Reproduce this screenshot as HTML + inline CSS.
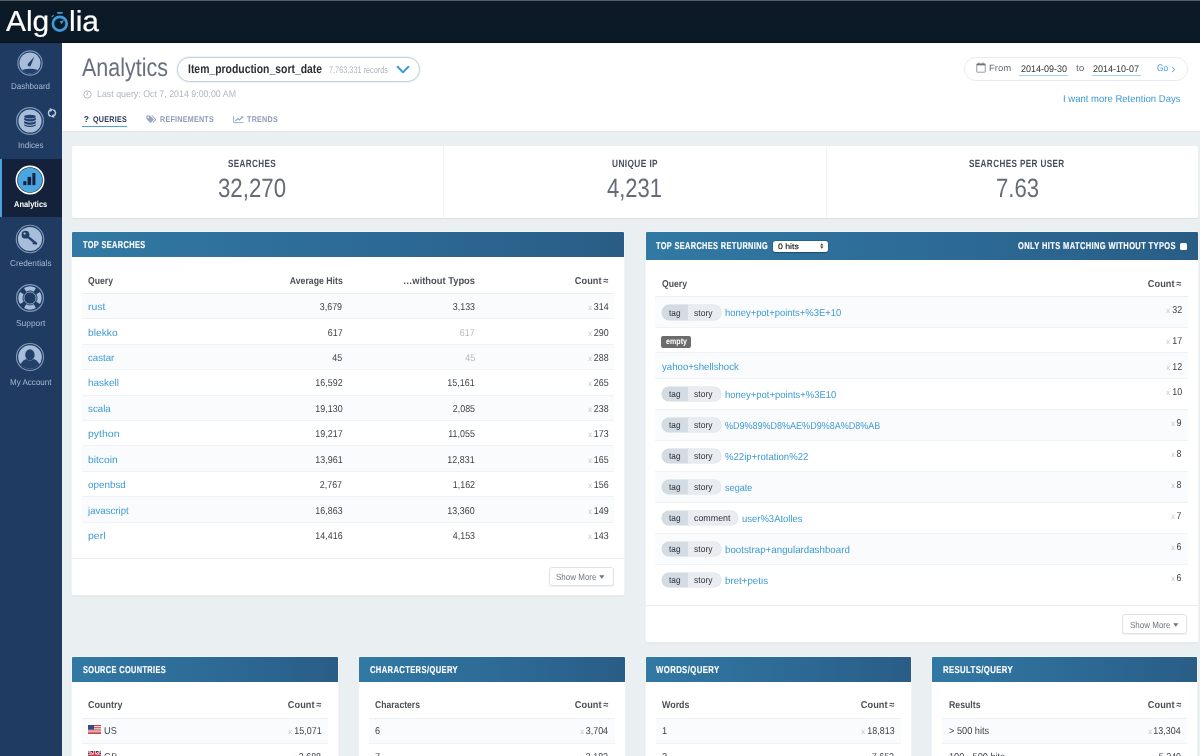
<!DOCTYPE html>
<html lang="en"><head><meta charset="utf-8"><title>Algolia Analytics</title>
<style>
html,body{margin:0;padding:0}
body{width:1200px;height:756px;overflow:hidden;position:relative;background:#eaeff2;font-family:'Liberation Sans', sans-serif;text-rendering:geometricPrecision}
.t{position:absolute;white-space:nowrap;display:block}
svg{position:absolute;overflow:visible}
</style></head><body>
<div style="position:absolute;left:0px;top:0px;width:1200px;height:42.6px;background:#0c1926;border-top:1px solid #555e69;border-bottom:1px solid #070f18;box-sizing:border-box;"></div>
<svg style="left:50px;top:10px" width="20" height="24" viewBox="50 10 20 24">
<circle cx="59.8" cy="23.7" r="6.9" fill="none" stroke="#3f9ad6" stroke-width="2.7"/>
<rect x="56.9" y="11.9" width="6" height="1.8" rx=".9" fill="#3f9ad6"/>
<path d="M59.6 21.4 L64.2 19.9 L61.6 24.2Z" fill="#3f9ad6"/>
<path d="M52 16.6 L53.3 15.5" stroke="#3f9ad6" stroke-width="1.2" stroke-linecap="round"/>
</svg>
<div style="position:absolute;left:0px;top:42.6px;width:61.7px;height:714px;background:#1f3b61;"></div>
<div style="position:absolute;left:0px;top:158.8px;width:61.7px;height:58.6px;background:#13223a;"></div>
<div style="position:absolute;left:0px;top:158.8px;width:2.1px;height:58.6px;background:#4aa3df;"></div>
<svg style="left:14.399999999999999px;top:47.4px" width="32" height="32" viewBox="-16 -16 32 32">
<circle r="12.125" fill="none" stroke="#7d98bd" stroke-width="1.15"/>
<circle r="10.6" fill="#a7bdda"/>
<path d="M-7.96 7 Q0 4.3 7.96 7 A10.6 10.6 0 0 1 -7.96 7Z" fill="#22406a"/><path d="M-2.2 0.9 L4.4 -6.6 L0.6 2.9 A1.75 1.75 0 0 1 -2.2 0.9Z" fill="#22406a"/></svg>
<svg style="left:14.2px;top:105.4px" width="32" height="32" viewBox="-16 -16 32 32">
<circle r="13.425" fill="none" stroke="#7d98bd" stroke-width="1.15"/>
<circle r="11.6" fill="#a7bdda"/>
<g fill="#22406a"><ellipse cx="0" cy="-4.3" rx="5.8" ry="1.9"/><path d="M-5.8 -3.2 Q0 -0.2 5.8 -3.2 V-0.9 Q0 2.1 -5.8 -0.9Z"/><path d="M-5.8 0 Q0 3 5.8 0 V2.3 Q0 5.3 -5.8 2.3Z"/><path d="M-5.8 3.2 Q0 6.2 5.8 3.2 V4.6 Q0 7.6 -5.8 4.6Z"/></g></svg>
<svg style="left:14.3px;top:164px" width="32" height="32" viewBox="-16 -16 32 32">
<circle r="13.6" fill="none" stroke="#ffffff" stroke-width="1.6"/>
<circle r="12.2" fill="#4ba6e0"/>
<g fill="#13223a"><rect x="-6.7" y="1.2" width="3.1" height="3.9"/><rect x="-2.4" y="-3.1" width="3.5" height="8.2"/><rect x="2.4" y="-7" width="3" height="12.1"/></g></svg>
<svg style="left:14.3px;top:222.6px" width="32" height="32" viewBox="-16 -16 32 32">
<circle r="13.725000000000001" fill="none" stroke="#7d98bd" stroke-width="1.15"/>
<circle r="12.1" fill="#a7bdda"/>
<g fill="#22406a"><circle cx="-4.5" cy="-4.3" r="3.9"/><path d="M-2.9 -1.3 L-1.3 -3.1 L7.4 4.1 L6.4 6 L4.6 4.9 L3.9 5.8 L2.4 4.6 L2.9 3.6Z"/></g><circle cx="-5.4" cy="-5.4" r="1.15" fill="#a7bdda"/></svg>
<svg style="left:13.899999999999999px;top:282px" width="32" height="32" viewBox="-16 -16 32 32">
<circle r="13.425" fill="none" stroke="#7d98bd" stroke-width="1.15"/>

<path d="M9.94 -5.97 A11.6 11.6 0 0 1 9.94 5.97 L6.34 3.81 A7.4 7.4 0 0 0 6.34 -3.81Z" fill="#a7bdda"/><path d="M5.97 9.94 A11.6 11.6 0 0 1 -5.97 9.94 L-3.81 6.34 A7.4 7.4 0 0 0 3.81 6.34Z" fill="#a7bdda"/><path d="M-9.94 5.97 A11.6 11.6 0 0 1 -9.94 -5.97 L-6.34 -3.81 A7.4 7.4 0 0 0 -6.34 3.81Z" fill="#a7bdda"/><path d="M-5.97 -9.94 A11.6 11.6 0 0 1 5.97 -9.94 L3.81 -6.34 A7.4 7.4 0 0 0 -3.81 -6.34Z" fill="#a7bdda"/><circle r="6.1" fill="none" stroke="#8ea8cb" stroke-width="1"/></svg>
<svg style="left:14.2px;top:341.3px" width="32" height="32" viewBox="-16 -16 32 32">
<circle r="13.525" fill="none" stroke="#7d98bd" stroke-width="1.15"/>
<circle r="11.8" fill="#a7bdda"/>
<g fill="#22406a"><ellipse cx="-0.1" cy="-2.1" rx="4.7" ry="5.6"/><path d="M-9.6 6.9 L-6.6 3.6 Q-4.6 2.2 -3.4 2 Q0 5 3.4 2 Q4.6 2.2 6.6 3.6 L9.6 6.9 A11.8 11.8 0 0 1 -9.6 6.9Z"/></g></svg>
<svg style="left:47.3px;top:107.6px" width="10" height="10" viewBox="-5 -5 10 10"><g fill="none" stroke="#bccbe0" stroke-width="1.5">
<path d="M-1.3 3.3 A3.5 3.5 0 0 1 -1.6 -3.1"/><path d="M1.3 -3.3 A3.5 3.5 0 0 1 1.6 3.1"/></g>
<path d="M-2.4 -4.9 L1.3 -3.4 L-1.6 -0.9Z" fill="#bccbe0"/><path d="M2.4 4.9 L-1.3 3.4 L1.6 0.9Z" fill="#bccbe0"/></svg>
<div style="position:absolute;left:61.7px;top:42.6px;width:1138.3px;height:88.4px;background:#fff;border-bottom:1px solid #dfe5ea;"></div>
<div style="position:absolute;left:177px;top:57px;width:243px;height:24.5px;background:#fff;border:1px solid #c3d0db;border-radius:13px;box-sizing:border-box;box-shadow:0 0 0 1px rgba(195,208,219,.25);"></div>
<svg style="left:396px;top:65px" width="14" height="10" viewBox="0 0 14 10"><path d="M1.6 1.8 L7 7.4 L12.4 1.8" fill="none" stroke="#3d9bd3" stroke-width="2" stroke-linecap="round" stroke-linejoin="round"/></svg>
<svg style="left:83px;top:89.5px" width="9" height="9" viewBox="0 0 9 9"><circle cx="4.5" cy="4.5" r="3.7" fill="none" stroke="#b4bcc5" stroke-width="1"/><path d="M4.5 2.4 V4.7 H2.9" fill="none" stroke="#b4bcc5" stroke-width=".9"/></svg>
<div style="position:absolute;left:82px;top:125.8px;width:45px;height:1.5px;background:#4ba3d8;"></div>
<svg style="left:146px;top:114.5px" width="11" height="9" viewBox="0 0 11 9"><path d="M0.4 0.6 H4 L8 4.6 L4.6 8 L0.4 4Z" fill="#98a6bd"/><path d="M5.4 0.6 H6.4 L10.4 4.6 L7 8 L6.4 7.4 L9 4.6Z" fill="#98a6bd"/><circle cx="2.2" cy="2.4" r=".8" fill="#fff"/></svg>
<svg style="left:233px;top:114.5px" width="11" height="9" viewBox="0 0 11 9"><path d="M0.6 0.8 V7.6 H10.4" fill="none" stroke="#98a6bd" stroke-width=".9"/><path d="M2.4 6.2 L4.8 3.6 L6.4 5 L9.6 1.8" fill="none" stroke="#98a6bd" stroke-width="1.2"/><path d="M7.8 1.2 H10.2 V3.6Z" fill="#98a6bd"/></svg>
<div style="position:absolute;left:963.5px;top:56.5px;width:224px;height:24.5px;background:#fff;border:1px solid #e8ecef;border-radius:13px;box-sizing:border-box;"></div>
<svg style="left:975.6px;top:62.3px" width="10" height="11" viewBox="0 0 10 11"><rect x=".8" y="1.8" width="8.4" height="8.4" rx=".4" fill="none" stroke="#7b828c" stroke-width=".8"/><path d="M.8 2.6 H9.2" stroke="#6d747e" stroke-width="1.5"/><path d="M3 .5 V2 M7 .5 V2" stroke="#7b828c" stroke-width="1.1"/></svg>
<div style="position:absolute;left:1019px;top:75px;width:49px;height:1px;background:#a3d2ec;"></div>
<div style="position:absolute;left:1091.5px;top:75px;width:49px;height:1px;background:#a3d2ec;"></div>
<svg style="left:1171px;top:65.5px" width="5" height="7" viewBox="0 0 5 7"><path d="M1.2 1 L3.8 3.5 L1.2 6" fill="none" stroke="#3d9bd3" stroke-width="1"/></svg>
<div style="position:absolute;left:72px;top:146px;width:1126px;height:71.5px;background:#fff;border-radius:2px;box-shadow:0 1px 1px rgba(0,0,0,.06);"></div>
<div style="position:absolute;left:443px;top:146px;width:1px;height:71.5px;background:#f1f3f5;"></div>
<div style="position:absolute;left:826px;top:146px;width:1px;height:71.5px;background:#f1f3f5;"></div>
<div style="position:absolute;left:72px;top:231.5px;width:552px;height:363px;background:#fff;border-radius:2px;box-shadow:0 0 0 .6px rgba(255,255,255,.75),0 1px 2px rgba(0,0,0,.10);"></div>
<div style="position:absolute;left:72px;top:231.5px;width:552px;height:25.8px;background:linear-gradient(90deg,#3179a4 0%,#2c6a95 55%,#295d86 100%);border-radius:1px 1px 0 0;"></div>
<div style="position:absolute;left:82px;top:293px;width:532px;height:1px;background:#eceff1;"></div>
<div style="position:absolute;left:82px;top:294.0px;width:532px;height:24.4px;background:#fafbfc;"></div>
<div style="position:absolute;left:82px;top:318.4px;width:532px;height:1px;background:#f0f3f5;"></div>
<div style="position:absolute;left:82px;top:343.79999999999995px;width:532px;height:1px;background:#f0f3f5;"></div>
<div style="position:absolute;left:82px;top:344.8px;width:532px;height:24.4px;background:#fafbfc;"></div>
<div style="position:absolute;left:82px;top:369.2px;width:532px;height:1px;background:#f0f3f5;"></div>
<div style="position:absolute;left:82px;top:394.59999999999997px;width:532px;height:1px;background:#f0f3f5;"></div>
<div style="position:absolute;left:82px;top:395.6px;width:532px;height:24.4px;background:#fafbfc;"></div>
<div style="position:absolute;left:82px;top:420.0px;width:532px;height:1px;background:#f0f3f5;"></div>
<div style="position:absolute;left:82px;top:445.4px;width:532px;height:1px;background:#f0f3f5;"></div>
<div style="position:absolute;left:82px;top:446.4px;width:532px;height:24.4px;background:#fafbfc;"></div>
<div style="position:absolute;left:82px;top:470.79999999999995px;width:532px;height:1px;background:#f0f3f5;"></div>
<div style="position:absolute;left:82px;top:496.19999999999993px;width:532px;height:1px;background:#f0f3f5;"></div>
<div style="position:absolute;left:82px;top:497.2px;width:532px;height:24.4px;background:#fafbfc;"></div>
<div style="position:absolute;left:82px;top:521.6px;width:532px;height:1px;background:#f0f3f5;"></div>
<div style="position:absolute;left:72px;top:558px;width:552px;height:1px;background:#ebeef1;"></div>
<div style="position:absolute;left:548.5px;top:566.5px;width:65px;height:19.8px;background:#fff;border:1px solid #dde2e6;border-radius:3px;box-sizing:border-box;box-shadow:0 1px 1px rgba(0,0,0,.06);"></div>
<svg style="left:599.1px;top:575.4px" width="6" height="4" viewBox="0 0 6 4"><path d="M.2 .3 H5.4 L2.8 3.7Z" fill="#6d7580"/></svg>
<div style="position:absolute;left:645.5px;top:231.5px;width:552px;height:410.5px;background:#fff;border-radius:2px;box-shadow:0 0 0 .6px rgba(255,255,255,.75),0 1px 2px rgba(0,0,0,.10);"></div>
<div style="position:absolute;left:645.5px;top:231.5px;width:552px;height:28.5px;background:linear-gradient(90deg,#3179a4 0%,#2c6a95 55%,#295d86 100%);border-radius:1px 1px 0 0;"></div>
<div style="position:absolute;left:772.5px;top:240.8px;width:55.5px;height:11px;background:#fff;border-radius:2.5px;box-shadow:0 0 0 .5px rgba(0,0,0,.2),0 .5px 1px rgba(0,0,0,.25);"></div>
<svg style="left:820.2px;top:243.3px" width="3.6" height="6" viewBox="0 0 3.6 6"><path d="M.2 2.4 L1.8 .2 L3.4 2.4Z M.2 3.6 L1.8 5.8 L3.4 3.6Z" fill="#3a3a3a"/></svg>
<div style="position:absolute;left:1179.7px;top:243.3px;width:7px;height:7px;background:#fff;border-radius:1.5px;"></div>
<div style="position:absolute;left:655px;top:296px;width:533px;height:1px;background:#eceff1;"></div>
<div style="position:absolute;left:655px;top:297px;width:533px;height:30px;background:#fafbfc;"></div>
<div style="position:absolute;left:655px;top:327px;width:533px;height:1px;background:#f0f3f5;"></div>
<div style="position:absolute;left:661.7px;top:305px;width:26px;height:14.6px;background:#d3dbe3;border-radius:7.3px 0 0 7.3px;box-shadow:0 0 0 .5px #cfd7df;"></div>
<div style="position:absolute;left:687.7px;top:305px;width:33.8px;height:14.6px;background:#e9edf1;border-radius:0 7.3px 7.3px 0;box-shadow:0 0 0 .5px #d9e0e7;"></div>
<div style="position:absolute;left:655px;top:352.4px;width:533px;height:1px;background:#f0f3f5;"></div>
<div style="position:absolute;left:661.4000000000001px;top:335.5px;width:29.3px;height:12.3px;background:#6c6c6c;border-radius:2px;"></div>
<div style="position:absolute;left:655px;top:353.4px;width:533px;height:24.4px;background:#fafbfc;"></div>
<div style="position:absolute;left:655px;top:377.79999999999995px;width:533px;height:1px;background:#f0f3f5;"></div>
<div style="position:absolute;left:655px;top:408.79999999999995px;width:533px;height:1px;background:#f0f3f5;"></div>
<div style="position:absolute;left:661.7px;top:386.79999999999995px;width:26px;height:14.6px;background:#d3dbe3;border-radius:7.3px 0 0 7.3px;box-shadow:0 0 0 .5px #cfd7df;"></div>
<div style="position:absolute;left:687.7px;top:386.79999999999995px;width:33.8px;height:14.6px;background:#e9edf1;border-radius:0 7.3px 7.3px 0;box-shadow:0 0 0 .5px #d9e0e7;"></div>
<div style="position:absolute;left:655px;top:409.79999999999995px;width:533px;height:30px;background:#fafbfc;"></div>
<div style="position:absolute;left:655px;top:439.79999999999995px;width:533px;height:1px;background:#f0f3f5;"></div>
<div style="position:absolute;left:661.7px;top:417.79999999999995px;width:26px;height:14.6px;background:#d3dbe3;border-radius:7.3px 0 0 7.3px;box-shadow:0 0 0 .5px #cfd7df;"></div>
<div style="position:absolute;left:687.7px;top:417.79999999999995px;width:33.8px;height:14.6px;background:#e9edf1;border-radius:0 7.3px 7.3px 0;box-shadow:0 0 0 .5px #d9e0e7;"></div>
<div style="position:absolute;left:655px;top:470.79999999999995px;width:533px;height:1px;background:#f0f3f5;"></div>
<div style="position:absolute;left:661.7px;top:448.79999999999995px;width:26px;height:14.6px;background:#d3dbe3;border-radius:7.3px 0 0 7.3px;box-shadow:0 0 0 .5px #cfd7df;"></div>
<div style="position:absolute;left:687.7px;top:448.79999999999995px;width:33.8px;height:14.6px;background:#e9edf1;border-radius:0 7.3px 7.3px 0;box-shadow:0 0 0 .5px #d9e0e7;"></div>
<div style="position:absolute;left:655px;top:471.79999999999995px;width:533px;height:30px;background:#fafbfc;"></div>
<div style="position:absolute;left:655px;top:501.79999999999995px;width:533px;height:1px;background:#f0f3f5;"></div>
<div style="position:absolute;left:661.7px;top:479.79999999999995px;width:26px;height:14.6px;background:#d3dbe3;border-radius:7.3px 0 0 7.3px;box-shadow:0 0 0 .5px #cfd7df;"></div>
<div style="position:absolute;left:687.7px;top:479.79999999999995px;width:33.8px;height:14.6px;background:#e9edf1;border-radius:0 7.3px 7.3px 0;box-shadow:0 0 0 .5px #d9e0e7;"></div>
<div style="position:absolute;left:655px;top:532.8px;width:533px;height:1px;background:#f0f3f5;"></div>
<div style="position:absolute;left:661.7px;top:510.79999999999995px;width:26px;height:14.6px;background:#d3dbe3;border-radius:7.3px 0 0 7.3px;box-shadow:0 0 0 .5px #cfd7df;"></div>
<div style="position:absolute;left:687.7px;top:510.79999999999995px;width:50.8px;height:14.6px;background:#e9edf1;border-radius:0 7.3px 7.3px 0;box-shadow:0 0 0 .5px #d9e0e7;"></div>
<div style="position:absolute;left:655px;top:533.8px;width:533px;height:30px;background:#fafbfc;"></div>
<div style="position:absolute;left:655px;top:563.8px;width:533px;height:1px;background:#f0f3f5;"></div>
<div style="position:absolute;left:661.7px;top:541.8px;width:26px;height:14.6px;background:#d3dbe3;border-radius:7.3px 0 0 7.3px;box-shadow:0 0 0 .5px #cfd7df;"></div>
<div style="position:absolute;left:687.7px;top:541.8px;width:33.8px;height:14.6px;background:#e9edf1;border-radius:0 7.3px 7.3px 0;box-shadow:0 0 0 .5px #d9e0e7;"></div>
<div style="position:absolute;left:661.7px;top:572.8px;width:26px;height:14.6px;background:#d3dbe3;border-radius:7.3px 0 0 7.3px;box-shadow:0 0 0 .5px #cfd7df;"></div>
<div style="position:absolute;left:687.7px;top:572.8px;width:33.8px;height:14.6px;background:#e9edf1;border-radius:0 7.3px 7.3px 0;box-shadow:0 0 0 .5px #d9e0e7;"></div>
<div style="position:absolute;left:645px;top:605.2px;width:552.5px;height:1px;background:#ebeef1;"></div>
<div style="position:absolute;left:1122px;top:614.4px;width:65px;height:19.8px;background:#fff;border:1px solid #dde2e6;border-radius:3px;box-sizing:border-box;box-shadow:0 1px 1px rgba(0,0,0,.06);"></div>
<svg style="left:1172.6px;top:623.3px" width="6" height="4" viewBox="0 0 6 4"><path d="M.2 .3 H5.4 L2.8 3.7Z" fill="#6d7580"/></svg>
<div style="position:absolute;left:72px;top:656.5px;width:266px;height:120px;background:#fff;border-radius:2px;box-shadow:0 0 0 .6px rgba(255,255,255,.75),0 1px 2px rgba(0,0,0,.10);"></div>
<div style="position:absolute;left:72px;top:656.5px;width:266px;height:25.2px;background:linear-gradient(90deg,#3179a4 0%,#2c6a95 55%,#295d86 100%);border-radius:1px 1px 0 0;"></div>
<div style="position:absolute;left:82px;top:717.6px;width:246px;height:1px;background:#eceff1;"></div>
<div style="position:absolute;left:82px;top:718.6px;width:246px;height:24.4px;background:#fafbfc;"></div>
<div style="position:absolute;left:82px;top:743.0px;width:246px;height:1px;background:#f0f3f5;"></div>
<svg style="left:88.3px;top:725.3000000000001px" width="13" height="9" viewBox="0 0 13 9"><rect width="13" height="9" fill="#f2f2f2"/><g fill="#c7434c"><rect y="0" width="13" height="1.1"/><rect y="2.2" width="13" height="1.1"/><rect y="4.4" width="13" height="1.1"/><rect y="6.6" width="13" height="1.1"/><rect y="8" width="13" height="1"/></g><rect width="6" height="4.6" fill="#3a4a7a"/></svg>
<div style="position:absolute;left:82px;top:768.4px;width:246px;height:1px;background:#f0f3f5;"></div>
<svg style="left:88.3px;top:750.7px" width="13" height="9" viewBox="0 0 13 9"><rect width="13" height="9" fill="#2c3f82"/><path d="M0 0 L13 9 M13 0 L0 9" stroke="#fff" stroke-width="2"/><path d="M0 0 L13 9 M13 0 L0 9" stroke="#cf3340" stroke-width=".8"/><path d="M6.5 0 V9 M0 4.5 H13" stroke="#fff" stroke-width="3"/><path d="M6.5 0 V9 M0 4.5 H13" stroke="#cf3340" stroke-width="1.8"/></svg>
<div style="position:absolute;left:359px;top:656.5px;width:265.5px;height:120px;background:#fff;border-radius:2px;box-shadow:0 0 0 .6px rgba(255,255,255,.75),0 1px 2px rgba(0,0,0,.10);"></div>
<div style="position:absolute;left:359px;top:656.5px;width:265.5px;height:25.2px;background:linear-gradient(90deg,#3179a4 0%,#2c6a95 55%,#295d86 100%);border-radius:1px 1px 0 0;"></div>
<div style="position:absolute;left:369px;top:717.6px;width:245.5px;height:1px;background:#eceff1;"></div>
<div style="position:absolute;left:369px;top:718.6px;width:245.5px;height:24.4px;background:#fafbfc;"></div>
<div style="position:absolute;left:369px;top:743.0px;width:245.5px;height:1px;background:#f0f3f5;"></div>
<div style="position:absolute;left:369px;top:768.4px;width:245.5px;height:1px;background:#f0f3f5;"></div>
<div style="position:absolute;left:645.5px;top:656.5px;width:265.5px;height:120px;background:#fff;border-radius:2px;box-shadow:0 0 0 .6px rgba(255,255,255,.75),0 1px 2px rgba(0,0,0,.10);"></div>
<div style="position:absolute;left:645.5px;top:656.5px;width:265.5px;height:25.2px;background:linear-gradient(90deg,#3179a4 0%,#2c6a95 55%,#295d86 100%);border-radius:1px 1px 0 0;"></div>
<div style="position:absolute;left:655.5px;top:717.6px;width:245.5px;height:1px;background:#eceff1;"></div>
<div style="position:absolute;left:655.5px;top:718.6px;width:245.5px;height:24.4px;background:#fafbfc;"></div>
<div style="position:absolute;left:655.5px;top:743.0px;width:245.5px;height:1px;background:#f0f3f5;"></div>
<div style="position:absolute;left:655.5px;top:768.4px;width:245.5px;height:1px;background:#f0f3f5;"></div>
<div style="position:absolute;left:932.3px;top:656.5px;width:265.2px;height:120px;background:#fff;border-radius:2px;box-shadow:0 0 0 .6px rgba(255,255,255,.75),0 1px 2px rgba(0,0,0,.10);"></div>
<div style="position:absolute;left:932.3px;top:656.5px;width:265.2px;height:25.2px;background:linear-gradient(90deg,#3179a4 0%,#2c6a95 55%,#295d86 100%);border-radius:1px 1px 0 0;"></div>
<div style="position:absolute;left:942.3px;top:717.6px;width:245.2px;height:1px;background:#eceff1;"></div>
<div style="position:absolute;left:942.3px;top:718.6px;width:245.2px;height:24.4px;background:#fafbfc;"></div>
<div style="position:absolute;left:942.3px;top:743.0px;width:245.2px;height:1px;background:#f0f3f5;"></div>
<div style="position:absolute;left:942.3px;top:768.4px;width:245.2px;height:1px;background:#f0f3f5;"></div>
<span class="t" style="left:6.3px;top:8px;font-size:29px;line-height:29px;color:#fff;transform:scaleX(1.030);transform-origin:left 23px;-webkit-text-stroke:.2px #fff;">Alg</span>
<span class="t" style="left:68.6px;top:8px;font-size:29px;line-height:29px;color:#fff;transform:scaleX(1.034);transform-origin:left 23px;-webkit-text-stroke:.2px #fff;">lia</span>
<span class="t" style="left:11.0px;top:82px;font-size:8.5px;line-height:8.5px;color:#a6b9d3;transform:scaleX(0.938);transform-origin:left 7px;">Dashboard</span>
<span class="t" style="left:17.7px;top:141px;font-size:8.5px;line-height:8.5px;color:#a6b9d3;transform:scaleX(0.950);transform-origin:left 7px;">Indices</span>
<span class="t" style="left:13.9px;top:200px;font-size:8.5px;line-height:8.5px;font-weight:700;color:#fff;transform:scaleX(0.878);transform-origin:left 7px;">Analytics</span>
<span class="t" style="left:9.8px;top:259px;font-size:8.5px;line-height:8.5px;color:#a6b9d3;transform:scaleX(0.965);transform-origin:left 7px;">Credentials</span>
<span class="t" style="left:15.8px;top:319px;font-size:8.5px;line-height:8.5px;color:#a6b9d3;transform:scaleX(0.987);transform-origin:left 7px;">Support</span>
<span class="t" style="left:9.8px;top:378px;font-size:8.5px;line-height:8.5px;color:#a6b9d3;transform:scaleX(0.945);transform-origin:left 7px;">My Account</span>
<span class="t" style="left:81.6px;top:56px;font-size:25.5px;line-height:25.5px;color:#687080;transform:scaleX(0.843);transform-origin:left 20px;">Analytics</span>
<span class="t" style="left:187.5px;top:63px;font-size:12.5px;line-height:12.5px;font-weight:700;color:#2b2f36;transform:scaleX(0.832);transform-origin:left 10px;">Item_production_sort_date</span>
<span class="t" style="left:328.5px;top:66px;font-size:9.5px;line-height:9.5px;color:#adb5be;transform:scaleX(0.770);transform-origin:left 7px;">7,763,331 records</span>
<span class="t" style="left:97.0px;top:90px;font-size:9.5px;line-height:9.5px;color:#b0b8c2;transform:scaleX(0.930);transform-origin:left 7px;">Last query: Oct 7, 2014 9:00:00 AM</span>
<span class="t" style="left:83.8px;top:115px;font-size:8.5px;line-height:8.5px;font-weight:700;color:#1f3050;transform:scaleX(1.000);transform-origin:left 7px;">?</span>
<span class="t" style="left:93.0px;top:115px;font-size:8.3px;line-height:8.3px;font-weight:700;letter-spacing:0.3px;color:#243452;transform:scaleX(0.862);transform-origin:left 7px;">QUERIES</span>
<span class="t" style="left:160.0px;top:115px;font-size:8.3px;line-height:8.3px;font-weight:700;letter-spacing:0.3px;color:#8e9bb4;transform:scaleX(0.860);transform-origin:left 7px;">REFINEMENTS</span>
<span class="t" style="left:247.0px;top:115px;font-size:8.3px;line-height:8.3px;font-weight:700;letter-spacing:0.3px;color:#8e9bb4;transform:scaleX(0.863);transform-origin:left 7px;">TRENDS</span>
<span class="t" style="left:989.4px;top:64px;font-size:9.2px;line-height:9.2px;color:#656c77;transform:scaleX(1.040);transform-origin:left 7px;">From</span>
<span class="t" style="left:1021.0px;top:65px;font-size:9.5px;line-height:9.5px;color:#333;transform:scaleX(0.946);transform-origin:left 7px;">2014-09-30</span>
<span class="t" style="left:1075.5px;top:64px;font-size:9.2px;line-height:9.2px;color:#656c77;transform:scaleX(1.108);transform-origin:left 7px;">to</span>
<span class="t" style="left:1093.0px;top:65px;font-size:9.5px;line-height:9.5px;color:#333;transform:scaleX(0.946);transform-origin:left 7px;">2014-10-07</span>
<span class="t" style="left:1157.0px;top:64px;font-size:9.5px;line-height:9.5px;color:#3d9bd3;transform:scaleX(0.867);transform-origin:left 7px;">Go</span>
<span class="t" style="left:1062.5px;top:95px;font-size:10px;line-height:10px;color:#3d9bd3;transform:scaleX(0.952);transform-origin:left 7px;">I want more Retention Days</span>
<span class="t" style="left:228.0px;top:159px;font-size:10.5px;line-height:10.5px;font-weight:700;letter-spacing:0.5px;color:#454f5f;transform:scaleX(0.770);transform-origin:left 8px;">SEARCHES</span>
<span class="t" style="left:218.0px;top:175px;font-size:26.5px;line-height:26.5px;color:#656c78;transform:scaleX(0.839);transform-origin:left 22px;">32,270</span>
<span class="t" style="left:611.5px;top:159px;font-size:10.5px;line-height:10.5px;font-weight:700;letter-spacing:0.5px;color:#454f5f;transform:scaleX(0.791);transform-origin:left 8px;">UNIQUE IP</span>
<span class="t" style="left:607.0px;top:175px;font-size:26.5px;line-height:26.5px;color:#656c78;transform:scaleX(0.829);transform-origin:left 22px;">4,231</span>
<span class="t" style="left:969.2px;top:159px;font-size:10.5px;line-height:10.5px;font-weight:700;letter-spacing:0.5px;color:#454f5f;transform:scaleX(0.774);transform-origin:left 8px;">SEARCHES PER USER</span>
<span class="t" style="left:995.5px;top:175px;font-size:26.5px;line-height:26.5px;color:#656c78;transform:scaleX(0.834);transform-origin:left 22px;">7.63</span>
<span class="t" style="left:82.5px;top:241px;font-size:10px;line-height:10px;font-weight:700;letter-spacing:0.5px;color:#fff;transform:scaleX(0.739);transform-origin:left 7px;-webkit-text-stroke:.15px #fff;">TOP SEARCHES</span>
<span class="t" style="left:88.3px;top:277px;font-size:10px;line-height:10px;font-weight:700;color:#4d5158;transform:scaleX(0.865);transform-origin:left 7px;">Query</span>
<span class="t" style="right:857.7px;top:277px;font-size:10px;line-height:10px;font-weight:700;color:#4d5158;transform:scaleX(0.872);transform-origin:right 7px;">Average Hits</span>
<span class="t" style="right:725.3px;top:277px;font-size:10px;line-height:10px;font-weight:700;color:#4d5158;transform:scaleX(0.935);transform-origin:right 7px;">…without Typos</span>
<span class="t" style="right:591.4px;top:277px;font-size:10px;line-height:10px;font-weight:700;color:#4d5158;transform:scaleX(0.921);transform-origin:right 7px;">Count ≈</span>
<span class="t" style="left:88.0px;top:303px;font-size:10px;line-height:10px;color:#3d9bd3;transform:scaleX(1.038);transform-origin:left 7px;">rust</span>
<span class="t" style="right:857.7px;top:303px;font-size:10px;line-height:10px;color:#3b3f45;transform:scaleX(0.890);transform-origin:right 7px;">3,679</span>
<span class="t" style="right:725.3px;top:303px;font-size:10px;line-height:10px;color:#3b3f45;transform:scaleX(0.890);transform-origin:right 7px;">3,133</span>
<span class="t" style="right:591.4px;top:303px;font-size:10px;line-height:10px;color:#3b3f45;transform:scaleX(0.890);transform-origin:right 7px;">314</span>
<span class="t" style="right:608.3px;top:304px;font-size:8px;line-height:8px;color:#c0c5cb;transform:scaleX(0.950);transform-origin:right 6px;">x</span>
<span class="t" style="left:88.0px;top:329px;font-size:10px;line-height:10px;color:#3d9bd3;transform:scaleX(1.024);transform-origin:left 7px;">blekko</span>
<span class="t" style="right:857.7px;top:329px;font-size:10px;line-height:10px;color:#3b3f45;transform:scaleX(0.890);transform-origin:right 7px;">617</span>
<span class="t" style="right:725.3px;top:329px;font-size:10px;line-height:10px;color:#b4bac1;transform:scaleX(0.890);transform-origin:right 7px;">617</span>
<span class="t" style="right:591.4px;top:329px;font-size:10px;line-height:10px;color:#3b3f45;transform:scaleX(0.890);transform-origin:right 7px;">290</span>
<span class="t" style="right:608.3px;top:330px;font-size:8px;line-height:8px;color:#c0c5cb;transform:scaleX(0.950);transform-origin:right 6px;">x</span>
<span class="t" style="left:88.0px;top:354px;font-size:10px;line-height:10px;color:#3d9bd3;transform:scaleX(0.962);transform-origin:left 7px;">castar</span>
<span class="t" style="right:857.7px;top:354px;font-size:10px;line-height:10px;color:#3b3f45;transform:scaleX(0.890);transform-origin:right 7px;">45</span>
<span class="t" style="right:725.3px;top:354px;font-size:10px;line-height:10px;color:#b4bac1;transform:scaleX(0.890);transform-origin:right 7px;">45</span>
<span class="t" style="right:591.4px;top:354px;font-size:10px;line-height:10px;color:#3b3f45;transform:scaleX(0.890);transform-origin:right 7px;">288</span>
<span class="t" style="right:608.3px;top:355px;font-size:8px;line-height:8px;color:#c0c5cb;transform:scaleX(0.950);transform-origin:right 6px;">x</span>
<span class="t" style="left:88.0px;top:379px;font-size:10px;line-height:10px;color:#3d9bd3;transform:scaleX(0.995);transform-origin:left 7px;">haskell</span>
<span class="t" style="right:857.7px;top:379px;font-size:10px;line-height:10px;color:#3b3f45;transform:scaleX(0.890);transform-origin:right 7px;">16,592</span>
<span class="t" style="right:725.3px;top:379px;font-size:10px;line-height:10px;color:#3b3f45;transform:scaleX(0.890);transform-origin:right 7px;">15,161</span>
<span class="t" style="right:591.4px;top:379px;font-size:10px;line-height:10px;color:#3b3f45;transform:scaleX(0.890);transform-origin:right 7px;">265</span>
<span class="t" style="right:608.3px;top:380px;font-size:8px;line-height:8px;color:#c0c5cb;transform:scaleX(0.950);transform-origin:right 6px;">x</span>
<span class="t" style="left:88.0px;top:405px;font-size:10px;line-height:10px;color:#3d9bd3;transform:scaleX(0.976);transform-origin:left 7px;">scala</span>
<span class="t" style="right:857.7px;top:405px;font-size:10px;line-height:10px;color:#3b3f45;transform:scaleX(0.890);transform-origin:right 7px;">19,130</span>
<span class="t" style="right:725.3px;top:405px;font-size:10px;line-height:10px;color:#3b3f45;transform:scaleX(0.890);transform-origin:right 7px;">2,085</span>
<span class="t" style="right:591.4px;top:405px;font-size:10px;line-height:10px;color:#3b3f45;transform:scaleX(0.890);transform-origin:right 7px;">238</span>
<span class="t" style="right:608.3px;top:406px;font-size:8px;line-height:8px;color:#c0c5cb;transform:scaleX(0.950);transform-origin:right 6px;">x</span>
<span class="t" style="left:88.0px;top:430px;font-size:10px;line-height:10px;color:#3d9bd3;transform:scaleX(1.049);transform-origin:left 7px;">python</span>
<span class="t" style="right:857.7px;top:430px;font-size:10px;line-height:10px;color:#3b3f45;transform:scaleX(0.890);transform-origin:right 7px;">19,217</span>
<span class="t" style="right:725.3px;top:430px;font-size:10px;line-height:10px;color:#3b3f45;transform:scaleX(0.890);transform-origin:right 7px;">11,055</span>
<span class="t" style="right:591.4px;top:430px;font-size:10px;line-height:10px;color:#3b3f45;transform:scaleX(0.890);transform-origin:right 7px;">173</span>
<span class="t" style="right:608.3px;top:431px;font-size:8px;line-height:8px;color:#c0c5cb;transform:scaleX(0.950);transform-origin:right 6px;">x</span>
<span class="t" style="left:88.0px;top:456px;font-size:10px;line-height:10px;color:#3d9bd3;transform:scaleX(1.024);transform-origin:left 7px;">bitcoin</span>
<span class="t" style="right:857.7px;top:456px;font-size:10px;line-height:10px;color:#3b3f45;transform:scaleX(0.890);transform-origin:right 7px;">13,961</span>
<span class="t" style="right:725.3px;top:456px;font-size:10px;line-height:10px;color:#3b3f45;transform:scaleX(0.890);transform-origin:right 7px;">12,831</span>
<span class="t" style="right:591.4px;top:456px;font-size:10px;line-height:10px;color:#3b3f45;transform:scaleX(0.890);transform-origin:right 7px;">165</span>
<span class="t" style="right:608.3px;top:457px;font-size:8px;line-height:8px;color:#c0c5cb;transform:scaleX(0.950);transform-origin:right 6px;">x</span>
<span class="t" style="left:88.0px;top:481px;font-size:10px;line-height:10px;color:#3d9bd3;transform:scaleX(0.985);transform-origin:left 7px;">openbsd</span>
<span class="t" style="right:857.7px;top:481px;font-size:10px;line-height:10px;color:#3b3f45;transform:scaleX(0.890);transform-origin:right 7px;">2,767</span>
<span class="t" style="right:725.3px;top:481px;font-size:10px;line-height:10px;color:#3b3f45;transform:scaleX(0.890);transform-origin:right 7px;">1,162</span>
<span class="t" style="right:591.4px;top:481px;font-size:10px;line-height:10px;color:#3b3f45;transform:scaleX(0.890);transform-origin:right 7px;">156</span>
<span class="t" style="right:608.3px;top:482px;font-size:8px;line-height:8px;color:#c0c5cb;transform:scaleX(0.950);transform-origin:right 6px;">x</span>
<span class="t" style="left:88.0px;top:507px;font-size:10px;line-height:10px;color:#3d9bd3;transform:scaleX(0.963);transform-origin:left 7px;">javascript</span>
<span class="t" style="right:857.7px;top:507px;font-size:10px;line-height:10px;color:#3b3f45;transform:scaleX(0.890);transform-origin:right 7px;">16,863</span>
<span class="t" style="right:725.3px;top:507px;font-size:10px;line-height:10px;color:#3b3f45;transform:scaleX(0.890);transform-origin:right 7px;">13,360</span>
<span class="t" style="right:591.4px;top:507px;font-size:10px;line-height:10px;color:#3b3f45;transform:scaleX(0.890);transform-origin:right 7px;">149</span>
<span class="t" style="right:608.3px;top:508px;font-size:8px;line-height:8px;color:#c0c5cb;transform:scaleX(0.950);transform-origin:right 6px;">x</span>
<span class="t" style="left:88.0px;top:532px;font-size:10px;line-height:10px;color:#3d9bd3;transform:scaleX(1.049);transform-origin:left 7px;">perl</span>
<span class="t" style="right:857.7px;top:532px;font-size:10px;line-height:10px;color:#3b3f45;transform:scaleX(0.890);transform-origin:right 7px;">14,416</span>
<span class="t" style="right:725.3px;top:532px;font-size:10px;line-height:10px;color:#3b3f45;transform:scaleX(0.890);transform-origin:right 7px;">4,153</span>
<span class="t" style="right:591.4px;top:532px;font-size:10px;line-height:10px;color:#3b3f45;transform:scaleX(0.890);transform-origin:right 7px;">143</span>
<span class="t" style="right:608.3px;top:533px;font-size:8px;line-height:8px;color:#c0c5cb;transform:scaleX(0.950);transform-origin:right 6px;">x</span>
<span class="t" style="left:556.0px;top:573px;font-size:9px;line-height:9px;color:#6d7580;transform:scaleX(0.889);transform-origin:left 7px;">Show More</span>
<span class="t" style="left:656.0px;top:242px;font-size:10px;line-height:10px;font-weight:700;letter-spacing:0.5px;color:#fff;transform:scaleX(0.738);transform-origin:left 7px;-webkit-text-stroke:.15px #fff;">TOP SEARCHES RETURNING</span>
<span class="t" style="left:777.6px;top:243px;font-size:7.8px;line-height:7.8px;color:#1a1a1a;transform:scaleX(1.116);transform-origin:left 6px;-webkit-text-stroke:.15px #1a1a1a;">0 hits</span>
<span class="t" style="left:1017.5px;top:242px;font-size:10px;line-height:10px;font-weight:700;letter-spacing:0.5px;color:#fff;transform:scaleX(0.751);transform-origin:left 7px;-webkit-text-stroke:.15px #fff;">ONLY HITS MATCHING WITHOUT TYPOS</span>
<span class="t" style="left:661.7px;top:280px;font-size:10px;line-height:10px;font-weight:700;color:#4d5158;transform:scaleX(0.865);transform-origin:left 7px;">Query</span>
<span class="t" style="right:18.2px;top:280px;font-size:10px;line-height:10px;font-weight:700;color:#4d5158;transform:scaleX(0.921);transform-origin:right 7px;">Count ≈</span>
<span class="t" style="left:669.0px;top:309px;font-size:9px;line-height:9px;color:#2d3138;transform:scaleX(0.919);transform-origin:left 7px;">tag</span>
<span class="t" style="left:694.0px;top:309px;font-size:9px;line-height:9px;color:#2d3138;transform:scaleX(0.948);transform-origin:left 7px;">story</span>
<span class="t" style="left:724.5px;top:309px;font-size:10px;line-height:10px;color:#3d9bd3;transform:scaleX(0.941);transform-origin:left 7px;">honey+pot+points+%3E+10</span>
<span class="t" style="right:18.2px;top:306px;font-size:10px;line-height:10px;color:#3b3f45;transform:scaleX(0.890);transform-origin:right 7px;">32</span>
<span class="t" style="right:30.2px;top:307px;font-size:8px;line-height:8px;color:#c0c5cb;transform:scaleX(0.950);transform-origin:right 6px;">x</span>
<span class="t" style="left:665.7px;top:337px;font-size:8.5px;line-height:8.5px;font-weight:700;color:#fff;transform:scaleX(0.838);transform-origin:left 7px;">empty</span>
<span class="t" style="right:18.2px;top:337px;font-size:10px;line-height:10px;color:#3b3f45;transform:scaleX(0.890);transform-origin:right 7px;">17</span>
<span class="t" style="right:30.2px;top:338px;font-size:8px;line-height:8px;color:#c0c5cb;transform:scaleX(0.950);transform-origin:right 6px;">x</span>
<span class="t" style="left:661.9px;top:363px;font-size:10px;line-height:10px;color:#3d9bd3;transform:scaleX(0.963);transform-origin:left 7px;">yahoo+shellshock</span>
<span class="t" style="right:18.2px;top:363px;font-size:10px;line-height:10px;color:#3b3f45;transform:scaleX(0.890);transform-origin:right 7px;">12</span>
<span class="t" style="right:30.2px;top:364px;font-size:8px;line-height:8px;color:#c0c5cb;transform:scaleX(0.950);transform-origin:right 6px;">x</span>
<span class="t" style="left:669.0px;top:390px;font-size:9px;line-height:9px;color:#2d3138;transform:scaleX(0.919);transform-origin:left 7px;">tag</span>
<span class="t" style="left:694.0px;top:390px;font-size:9px;line-height:9px;color:#2d3138;transform:scaleX(0.948);transform-origin:left 7px;">story</span>
<span class="t" style="left:724.5px;top:391px;font-size:10px;line-height:10px;color:#3d9bd3;transform:scaleX(0.947);transform-origin:left 7px;">honey+pot+points+%3E10</span>
<span class="t" style="right:18.2px;top:388px;font-size:10px;line-height:10px;color:#3b3f45;transform:scaleX(0.890);transform-origin:right 7px;">10</span>
<span class="t" style="right:30.2px;top:389px;font-size:8px;line-height:8px;color:#c0c5cb;transform:scaleX(0.950);transform-origin:right 6px;">x</span>
<span class="t" style="left:669.0px;top:421px;font-size:9px;line-height:9px;color:#2d3138;transform:scaleX(0.919);transform-origin:left 7px;">tag</span>
<span class="t" style="left:694.0px;top:421px;font-size:9px;line-height:9px;color:#2d3138;transform:scaleX(0.948);transform-origin:left 7px;">story</span>
<span class="t" style="left:724.5px;top:422px;font-size:10px;line-height:10px;color:#3d9bd3;transform:scaleX(0.901);transform-origin:left 7px;">%D9%89%D8%AE%D9%8A%D8%AB</span>
<span class="t" style="right:18.2px;top:419px;font-size:10px;line-height:10px;color:#3b3f45;transform:scaleX(0.890);transform-origin:right 7px;">9</span>
<span class="t" style="right:25.3px;top:420px;font-size:8px;line-height:8px;color:#c0c5cb;transform:scaleX(0.950);transform-origin:right 6px;">x</span>
<span class="t" style="left:669.0px;top:452px;font-size:9px;line-height:9px;color:#2d3138;transform:scaleX(0.919);transform-origin:left 7px;">tag</span>
<span class="t" style="left:694.0px;top:452px;font-size:9px;line-height:9px;color:#2d3138;transform:scaleX(0.948);transform-origin:left 7px;">story</span>
<span class="t" style="left:724.5px;top:453px;font-size:10px;line-height:10px;color:#3d9bd3;transform:scaleX(0.958);transform-origin:left 7px;">%22ip+rotation%22</span>
<span class="t" style="right:18.2px;top:450px;font-size:10px;line-height:10px;color:#3b3f45;transform:scaleX(0.890);transform-origin:right 7px;">8</span>
<span class="t" style="right:25.3px;top:451px;font-size:8px;line-height:8px;color:#c0c5cb;transform:scaleX(0.950);transform-origin:right 6px;">x</span>
<span class="t" style="left:669.0px;top:483px;font-size:9px;line-height:9px;color:#2d3138;transform:scaleX(0.919);transform-origin:left 7px;">tag</span>
<span class="t" style="left:694.0px;top:483px;font-size:9px;line-height:9px;color:#2d3138;transform:scaleX(0.948);transform-origin:left 7px;">story</span>
<span class="t" style="left:724.5px;top:484px;font-size:10px;line-height:10px;color:#3d9bd3;transform:scaleX(0.912);transform-origin:left 7px;">segate</span>
<span class="t" style="right:18.2px;top:481px;font-size:10px;line-height:10px;color:#3b3f45;transform:scaleX(0.890);transform-origin:right 7px;">8</span>
<span class="t" style="right:25.3px;top:482px;font-size:8px;line-height:8px;color:#c0c5cb;transform:scaleX(0.950);transform-origin:right 6px;">x</span>
<span class="t" style="left:669.0px;top:514px;font-size:9px;line-height:9px;color:#2d3138;transform:scaleX(0.919);transform-origin:left 7px;">tag</span>
<span class="t" style="left:694.0px;top:514px;font-size:9px;line-height:9px;color:#2d3138;transform:scaleX(0.986);transform-origin:left 7px;">comment</span>
<span class="t" style="left:741.5px;top:515px;font-size:10px;line-height:10px;color:#3d9bd3;transform:scaleX(0.948);transform-origin:left 7px;">user%3Atolles</span>
<span class="t" style="right:18.2px;top:512px;font-size:10px;line-height:10px;color:#3b3f45;transform:scaleX(0.890);transform-origin:right 7px;">7</span>
<span class="t" style="right:25.3px;top:513px;font-size:8px;line-height:8px;color:#c0c5cb;transform:scaleX(0.950);transform-origin:right 6px;">x</span>
<span class="t" style="left:669.0px;top:545px;font-size:9px;line-height:9px;color:#2d3138;transform:scaleX(0.919);transform-origin:left 7px;">tag</span>
<span class="t" style="left:694.0px;top:545px;font-size:9px;line-height:9px;color:#2d3138;transform:scaleX(0.948);transform-origin:left 7px;">story</span>
<span class="t" style="left:724.5px;top:546px;font-size:10px;line-height:10px;color:#3d9bd3;transform:scaleX(0.974);transform-origin:left 7px;">bootstrap+angulardashboard</span>
<span class="t" style="right:18.2px;top:543px;font-size:10px;line-height:10px;color:#3b3f45;transform:scaleX(0.890);transform-origin:right 7px;">6</span>
<span class="t" style="right:25.3px;top:544px;font-size:8px;line-height:8px;color:#c0c5cb;transform:scaleX(0.950);transform-origin:right 6px;">x</span>
<span class="t" style="left:669.0px;top:576px;font-size:9px;line-height:9px;color:#2d3138;transform:scaleX(0.919);transform-origin:left 7px;">tag</span>
<span class="t" style="left:694.0px;top:576px;font-size:9px;line-height:9px;color:#2d3138;transform:scaleX(0.948);transform-origin:left 7px;">story</span>
<span class="t" style="left:724.5px;top:577px;font-size:10px;line-height:10px;color:#3d9bd3;transform:scaleX(0.973);transform-origin:left 7px;">bret+petis</span>
<span class="t" style="right:18.2px;top:574px;font-size:10px;line-height:10px;color:#3b3f45;transform:scaleX(0.890);transform-origin:right 7px;">6</span>
<span class="t" style="right:25.3px;top:575px;font-size:8px;line-height:8px;color:#c0c5cb;transform:scaleX(0.950);transform-origin:right 6px;">x</span>
<span class="t" style="left:1129.5px;top:621px;font-size:9px;line-height:9px;color:#6d7580;transform:scaleX(0.889);transform-origin:left 7px;">Show More</span>
<span class="t" style="left:82.5px;top:666px;font-size:10px;line-height:10px;font-weight:700;letter-spacing:0.5px;color:#fff;transform:scaleX(0.738);transform-origin:left 7px;-webkit-text-stroke:.15px #fff;">SOURCE COUNTRIES</span>
<span class="t" style="left:88.3px;top:701px;font-size:10px;line-height:10px;font-weight:700;color:#4d5158;transform:scaleX(0.900);transform-origin:left 7px;">Country</span>
<span class="t" style="right:878.5px;top:701px;font-size:10px;line-height:10px;font-weight:700;color:#4d5158;transform:scaleX(0.921);transform-origin:right 7px;">Count ≈</span>
<span class="t" style="left:104.3px;top:727px;font-size:10px;line-height:10px;color:#3b3f45;transform:scaleX(0.920);transform-origin:left 7px;">US</span>
<span class="t" style="right:878.5px;top:727px;font-size:10px;line-height:10px;color:#3b3f45;transform:scaleX(0.890);transform-origin:right 7px;">15,071</span>
<span class="t" style="right:907.7px;top:728px;font-size:8px;line-height:8px;color:#c0c5cb;transform:scaleX(0.950);transform-origin:right 6px;">x</span>
<span class="t" style="left:104.3px;top:753px;font-size:10px;line-height:10px;color:#3b3f45;transform:scaleX(0.920);transform-origin:left 7px;">GB</span>
<span class="t" style="right:878.5px;top:753px;font-size:10px;line-height:10px;color:#3b3f45;transform:scaleX(0.890);transform-origin:right 7px;">2,688</span>
<span class="t" style="right:902.8px;top:754px;font-size:8px;line-height:8px;color:#c0c5cb;transform:scaleX(0.950);transform-origin:right 6px;">x</span>
<span class="t" style="left:369.5px;top:666px;font-size:10px;line-height:10px;font-weight:700;letter-spacing:0.5px;color:#fff;transform:scaleX(0.759);transform-origin:left 7px;-webkit-text-stroke:.15px #fff;">CHARACTERS/QUERY</span>
<span class="t" style="left:375.3px;top:701px;font-size:10px;line-height:10px;font-weight:700;color:#4d5158;transform:scaleX(0.861);transform-origin:left 7px;">Characters</span>
<span class="t" style="right:592.0px;top:701px;font-size:10px;line-height:10px;font-weight:700;color:#4d5158;transform:scaleX(0.921);transform-origin:right 7px;">Count ≈</span>
<span class="t" style="left:375.3px;top:727px;font-size:10px;line-height:10px;color:#3b3f45;transform:scaleX(0.920);transform-origin:left 7px;">6</span>
<span class="t" style="right:592.0px;top:727px;font-size:10px;line-height:10px;color:#3b3f45;transform:scaleX(0.890);transform-origin:right 7px;">3,704</span>
<span class="t" style="right:616.3px;top:728px;font-size:8px;line-height:8px;color:#c0c5cb;transform:scaleX(0.950);transform-origin:right 6px;">x</span>
<span class="t" style="left:375.3px;top:753px;font-size:10px;line-height:10px;color:#3b3f45;transform:scaleX(0.920);transform-origin:left 7px;">7</span>
<span class="t" style="right:592.0px;top:753px;font-size:10px;line-height:10px;color:#3b3f45;transform:scaleX(0.890);transform-origin:right 7px;">3,182</span>
<span class="t" style="right:616.3px;top:754px;font-size:8px;line-height:8px;color:#c0c5cb;transform:scaleX(0.950);transform-origin:right 6px;">x</span>
<span class="t" style="left:656.0px;top:666px;font-size:10px;line-height:10px;font-weight:700;letter-spacing:0.5px;color:#fff;transform:scaleX(0.776);transform-origin:left 7px;-webkit-text-stroke:.15px #fff;">WORDS/QUERY</span>
<span class="t" style="left:661.8px;top:701px;font-size:10px;line-height:10px;font-weight:700;color:#4d5158;transform:scaleX(0.889);transform-origin:left 7px;">Words</span>
<span class="t" style="right:305.5px;top:701px;font-size:10px;line-height:10px;font-weight:700;color:#4d5158;transform:scaleX(0.921);transform-origin:right 7px;">Count ≈</span>
<span class="t" style="left:661.8px;top:727px;font-size:10px;line-height:10px;color:#3b3f45;transform:scaleX(0.920);transform-origin:left 7px;">1</span>
<span class="t" style="right:305.5px;top:727px;font-size:10px;line-height:10px;color:#3b3f45;transform:scaleX(0.890);transform-origin:right 7px;">18,813</span>
<span class="t" style="right:334.7px;top:728px;font-size:8px;line-height:8px;color:#c0c5cb;transform:scaleX(0.950);transform-origin:right 6px;">x</span>
<span class="t" style="left:661.8px;top:753px;font-size:10px;line-height:10px;color:#3b3f45;transform:scaleX(0.920);transform-origin:left 7px;">2</span>
<span class="t" style="right:305.5px;top:753px;font-size:10px;line-height:10px;color:#3b3f45;transform:scaleX(0.890);transform-origin:right 7px;">7,652</span>
<span class="t" style="right:329.8px;top:754px;font-size:8px;line-height:8px;color:#c0c5cb;transform:scaleX(0.950);transform-origin:right 6px;">x</span>
<span class="t" style="left:942.8px;top:666px;font-size:10px;line-height:10px;font-weight:700;letter-spacing:0.5px;color:#fff;transform:scaleX(0.774);transform-origin:left 7px;-webkit-text-stroke:.15px #fff;">RESULTS/QUERY</span>
<span class="t" style="left:948.6px;top:701px;font-size:10px;line-height:10px;font-weight:700;color:#4d5158;transform:scaleX(0.872);transform-origin:left 7px;">Results</span>
<span class="t" style="right:19.0px;top:701px;font-size:10px;line-height:10px;font-weight:700;color:#4d5158;transform:scaleX(0.921);transform-origin:right 7px;">Count ≈</span>
<span class="t" style="left:948.6px;top:727px;font-size:10px;line-height:10px;color:#3b3f45;transform:scaleX(0.920);transform-origin:left 7px;">&gt; 500 hits</span>
<span class="t" style="right:19.0px;top:727px;font-size:10px;line-height:10px;color:#3b3f45;transform:scaleX(0.890);transform-origin:right 7px;">13,304</span>
<span class="t" style="right:48.2px;top:728px;font-size:8px;line-height:8px;color:#c0c5cb;transform:scaleX(0.950);transform-origin:right 6px;">x</span>
<span class="t" style="left:948.6px;top:753px;font-size:10px;line-height:10px;color:#3b3f45;transform:scaleX(0.920);transform-origin:left 7px;">100 - 500 hits</span>
<span class="t" style="right:19.0px;top:753px;font-size:10px;line-height:10px;color:#3b3f45;transform:scaleX(0.890);transform-origin:right 7px;">5,249</span>
<span class="t" style="right:43.3px;top:754px;font-size:8px;line-height:8px;color:#c0c5cb;transform:scaleX(0.950);transform-origin:right 6px;">x</span>

</body></html>
